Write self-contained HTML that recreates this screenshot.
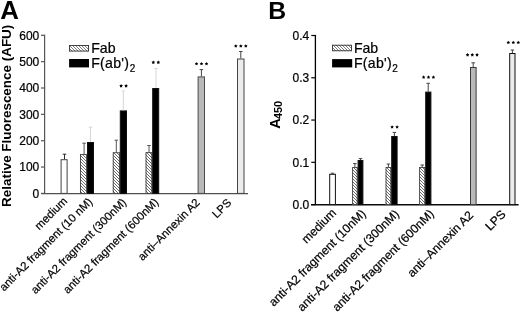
<!DOCTYPE html>
<html><head><meta charset="utf-8"><title>Figure</title>
<style>
html,body{margin:0;padding:0;background:#fff;width:520px;height:313px;overflow:hidden;}
svg{display:block;font-family:"Liberation Sans", sans-serif;filter:grayscale(1);}
text[font-weight="normal"]{stroke:#000;stroke-width:0.22px;}
</style></head><body>
<svg width="520" height="313" viewBox="0 0 520 313">
<rect width="520" height="313" fill="#fff"/>
<text x="0.30" y="19.20" font-size="25.80" text-anchor="start" font-weight="bold" fill="#000">A</text>
<text x="0.00" y="0.00" font-size="13.45" text-anchor="middle" font-weight="bold" fill="#000" transform="translate(10.70,115.80) rotate(-90)">Relative Fluorescence (AFU)</text>
<line x1="44.60" y1="34.70" x2="44.60" y2="193.40" stroke="#555" stroke-width="1.2"/>
<line x1="41" y1="193.50" x2="248" y2="193.50" stroke="#505050" stroke-width="1.25"/>
<line x1="41" y1="193.40" x2="44.60" y2="193.40" stroke="#555" stroke-width="1.2"/>
<text x="39.30" y="197.70" font-size="12.00" text-anchor="end" font-weight="normal" fill="#000">0</text>
<line x1="41" y1="167.05" x2="44.60" y2="167.05" stroke="#555" stroke-width="1.2"/>
<text x="39.30" y="171.35" font-size="12.00" text-anchor="end" font-weight="normal" fill="#000">100</text>
<line x1="41" y1="140.70" x2="44.60" y2="140.70" stroke="#555" stroke-width="1.2"/>
<text x="39.30" y="145.00" font-size="12.00" text-anchor="end" font-weight="normal" fill="#000">200</text>
<line x1="41" y1="114.35" x2="44.60" y2="114.35" stroke="#555" stroke-width="1.2"/>
<text x="39.30" y="118.65" font-size="12.00" text-anchor="end" font-weight="normal" fill="#000">300</text>
<line x1="41" y1="88.00" x2="44.60" y2="88.00" stroke="#555" stroke-width="1.2"/>
<text x="39.30" y="92.30" font-size="12.00" text-anchor="end" font-weight="normal" fill="#000">400</text>
<line x1="41" y1="61.65" x2="44.60" y2="61.65" stroke="#555" stroke-width="1.2"/>
<text x="39.30" y="65.95" font-size="12.00" text-anchor="end" font-weight="normal" fill="#000">500</text>
<line x1="41" y1="35.30" x2="44.60" y2="35.30" stroke="#555" stroke-width="1.2"/>
<text x="39.30" y="39.60" font-size="12.00" text-anchor="end" font-weight="normal" fill="#000">600</text>
<rect x="61.10" y="159.70" width="6.00" height="33.70" fill="#fff" stroke="#444" stroke-width="1.00"/>
<line x1="64.50" y1="159.20" x2="64.50" y2="154.20" stroke="#2a2a2a" stroke-width="1.00"/><line x1="62.75" y1="154.20" x2="66.25" y2="154.20" stroke="#2a2a2a" stroke-width="1.00"/>
<clipPath id="c1"><rect x="80.00" y="154.00" width="7.00" height="39.40"/></clipPath><rect x="80.00" y="154.00" width="7.00" height="39.40" fill="#fff"/><path clip-path="url(#c1)" d="M79.00,142.00 L88.00,151.00 M79.00,145.00 L88.00,154.00 M79.00,148.00 L88.00,157.00 M79.00,151.00 L88.00,160.00 M79.00,154.00 L88.00,163.00 M79.00,157.00 L88.00,166.00 M79.00,160.00 L88.00,169.00 M79.00,163.00 L88.00,172.00 M79.00,166.00 L88.00,175.00 M79.00,169.00 L88.00,178.00 M79.00,172.00 L88.00,181.00 M79.00,175.00 L88.00,184.00 M79.00,178.00 L88.00,187.00 M79.00,181.00 L88.00,190.00 M79.00,184.00 L88.00,193.00 M79.00,187.00 L88.00,196.00 M79.00,190.00 L88.00,199.00 M79.00,193.00 L88.00,202.00" stroke="#505050" stroke-width="0.85" fill="none"/><rect x="80.42" y="154.43" width="6.15" height="38.98" fill="none" stroke="#3a3a3a" stroke-width="0.85"/>
<rect x="87.50" y="142.50" width="6.00" height="50.90" fill="#000" stroke="#111" stroke-width="1.00"/>
<line x1="84.10" y1="154.00" x2="84.10" y2="143.20" stroke="#555" stroke-width="1.00"/><line x1="82.35" y1="143.20" x2="85.85" y2="143.20" stroke="#555" stroke-width="1.00"/>
<line x1="90.50" y1="142.00" x2="90.50" y2="127.20" stroke="#d6d6d6" stroke-width="1.00"/><line x1="88.75" y1="127.20" x2="92.25" y2="127.20" stroke="#d6d6d6" stroke-width="1.00"/>
<clipPath id="c2"><rect x="112.80" y="152.30" width="7.00" height="41.10"/></clipPath><rect x="112.80" y="152.30" width="7.00" height="41.10" fill="#fff"/><path clip-path="url(#c2)" d="M111.80,138.80 L120.80,147.80 M111.80,141.80 L120.80,150.80 M111.80,144.80 L120.80,153.80 M111.80,147.80 L120.80,156.80 M111.80,150.80 L120.80,159.80 M111.80,153.80 L120.80,162.80 M111.80,156.80 L120.80,165.80 M111.80,159.80 L120.80,168.80 M111.80,162.80 L120.80,171.80 M111.80,165.80 L120.80,174.80 M111.80,168.80 L120.80,177.80 M111.80,171.80 L120.80,180.80 M111.80,174.80 L120.80,183.80 M111.80,177.80 L120.80,186.80 M111.80,180.80 L120.80,189.80 M111.80,183.80 L120.80,192.80 M111.80,186.80 L120.80,195.80 M111.80,189.80 L120.80,198.80 M111.80,192.80 L120.80,201.80" stroke="#505050" stroke-width="0.85" fill="none"/><rect x="113.22" y="152.73" width="6.15" height="40.67" fill="none" stroke="#3a3a3a" stroke-width="0.85"/>
<rect x="120.30" y="110.90" width="6.20" height="82.50" fill="#000" stroke="#111" stroke-width="1.00"/>
<line x1="116.30" y1="152.30" x2="116.30" y2="140.20" stroke="#555" stroke-width="1.00"/><line x1="114.55" y1="140.20" x2="118.05" y2="140.20" stroke="#555" stroke-width="1.00"/>
<line x1="123.30" y1="110.40" x2="123.30" y2="91.00" stroke="#d6d6d6" stroke-width="1.00"/><line x1="121.55" y1="91.00" x2="125.05" y2="91.00" stroke="#d6d6d6" stroke-width="1.00"/>
<polygon points="121.10,84.05 121.70,85.08 122.86,85.33 122.07,86.21 122.19,87.40 121.10,86.92 120.01,87.40 120.13,86.21 119.34,85.33 120.50,85.08" fill="#000"/><polygon points="126.10,84.05 126.70,85.08 127.86,85.33 127.07,86.21 127.19,87.40 126.10,86.92 125.01,87.40 125.13,86.21 124.34,85.33 125.50,85.08" fill="#000"/>
<clipPath id="c3"><rect x="145.60" y="152.20" width="6.60" height="41.20"/></clipPath><rect x="145.60" y="152.20" width="6.60" height="41.20" fill="#fff"/><path clip-path="url(#c3)" d="M144.60,141.60 L153.20,150.20 M144.60,144.60 L153.20,153.20 M144.60,147.60 L153.20,156.20 M144.60,150.60 L153.20,159.20 M144.60,153.60 L153.20,162.20 M144.60,156.60 L153.20,165.20 M144.60,159.60 L153.20,168.20 M144.60,162.60 L153.20,171.20 M144.60,165.60 L153.20,174.20 M144.60,168.60 L153.20,177.20 M144.60,171.60 L153.20,180.20 M144.60,174.60 L153.20,183.20 M144.60,177.60 L153.20,186.20 M144.60,180.60 L153.20,189.20 M144.60,183.60 L153.20,192.20 M144.60,186.60 L153.20,195.20 M144.60,189.60 L153.20,198.20 M144.60,192.60 L153.20,201.20" stroke="#505050" stroke-width="0.85" fill="none"/><rect x="146.03" y="152.62" width="5.75" height="40.78" fill="none" stroke="#3a3a3a" stroke-width="0.85"/>
<rect x="152.70" y="88.50" width="6.00" height="104.90" fill="#000" stroke="#111" stroke-width="1.00"/>
<line x1="149.00" y1="152.20" x2="149.00" y2="145.50" stroke="#555" stroke-width="1.00"/><line x1="147.25" y1="145.50" x2="150.75" y2="145.50" stroke="#555" stroke-width="1.00"/>
<line x1="156.00" y1="88.00" x2="156.00" y2="68.40" stroke="#d6d6d6" stroke-width="1.00"/><line x1="154.25" y1="68.40" x2="157.75" y2="68.40" stroke="#d6d6d6" stroke-width="1.00"/>
<polygon points="153.30,60.55 153.90,61.58 155.06,61.83 154.27,62.71 154.39,63.90 153.30,63.42 152.21,63.90 152.33,62.71 151.54,61.83 152.70,61.58" fill="#000"/><polygon points="158.30,60.55 158.90,61.58 160.06,61.83 159.27,62.71 159.39,63.90 158.30,63.42 157.21,63.90 157.33,62.71 156.54,61.83 157.70,61.58" fill="#000"/>
<rect x="198.10" y="76.90" width="6.40" height="116.50" fill="#b9b9b9" stroke="#4a4a4a" stroke-width="1.00"/>
<line x1="201.40" y1="76.40" x2="201.40" y2="69.60" stroke="#444" stroke-width="1.00"/><line x1="199.65" y1="69.60" x2="203.15" y2="69.60" stroke="#444" stroke-width="1.00"/>
<polygon points="196.50,61.95 197.10,62.98 198.26,63.23 197.47,64.11 197.59,65.30 196.50,64.82 195.41,65.30 195.53,64.11 194.74,63.23 195.90,62.98" fill="#000"/><polygon points="201.50,61.95 202.10,62.98 203.26,63.23 202.47,64.11 202.59,65.30 201.50,64.82 200.41,65.30 200.53,64.11 199.74,63.23 200.90,62.98" fill="#000"/><polygon points="206.50,61.95 207.10,62.98 208.26,63.23 207.47,64.11 207.59,65.30 206.50,64.82 205.41,65.30 205.53,64.11 204.74,63.23 205.90,62.98" fill="#000"/>
<rect x="237.50" y="59.00" width="6.50" height="134.40" fill="#ececec" stroke="#444" stroke-width="1.00"/>
<line x1="240.80" y1="58.50" x2="240.80" y2="51.50" stroke="#444" stroke-width="1.00"/><line x1="239.05" y1="51.50" x2="242.55" y2="51.50" stroke="#444" stroke-width="1.00"/>
<polygon points="235.80,44.25 236.40,45.28 237.56,45.53 236.77,46.41 236.89,47.60 235.80,47.12 234.71,47.60 234.83,46.41 234.04,45.53 235.20,45.28" fill="#000"/><polygon points="240.80,44.25 241.40,45.28 242.56,45.53 241.77,46.41 241.89,47.60 240.80,47.12 239.71,47.60 239.83,46.41 239.04,45.53 240.20,45.28" fill="#000"/><polygon points="245.80,44.25 246.40,45.28 247.56,45.53 246.77,46.41 246.89,47.60 245.80,47.12 244.71,47.60 244.83,46.41 244.04,45.53 245.20,45.28" fill="#000"/>
<clipPath id="c4"><rect x="69.10" y="45.00" width="19.90" height="6.50"/></clipPath><rect x="69.10" y="45.00" width="19.90" height="6.50" fill="#fff"/><path clip-path="url(#c4)" d="M68.10,20.10 L90.00,42.00 M68.10,23.10 L90.00,45.00 M68.10,26.10 L90.00,48.00 M68.10,29.10 L90.00,51.00 M68.10,32.10 L90.00,54.00 M68.10,35.10 L90.00,57.00 M68.10,38.10 L90.00,60.00 M68.10,41.10 L90.00,63.00 M68.10,44.10 L90.00,66.00 M68.10,47.10 L90.00,69.00 M68.10,50.10 L90.00,72.00 M68.10,53.10 L90.00,75.00" stroke="#555" stroke-width="0.75" fill="none"/><rect x="69.55" y="45.45" width="19.00" height="5.60" fill="none" stroke="#333" stroke-width="0.90"/>
<rect x="69.1" y="59.0" width="19.9" height="8.4" fill="#000"/>
<text x="91.20" y="52.60" font-size="14.10" text-anchor="start" font-weight="normal" fill="#000">Fab</text>
<text x="91.20" y="68.30" font-size="14.10" text-anchor="start" font-weight="normal" fill="#000" letter-spacing="0.3">F(ab')<tspan font-size="10" dx="0.3" dy="3.4">2</tspan></text>
<text x="0.00" y="0.00" font-size="11.35" text-anchor="end" font-weight="normal" fill="#000" transform="translate(67.90,201.90) rotate(-45)">medium</text>
<text x="0.00" y="0.00" font-size="11.35" text-anchor="end" font-weight="normal" fill="#000" transform="translate(93.10,202.50) rotate(-45)">anti-A2 fragment (10 nM)</text>
<text x="0.00" y="0.00" font-size="11.35" text-anchor="end" font-weight="normal" fill="#000" transform="translate(127.00,203.00) rotate(-45)">anti-A2 fragment (300nM)</text>
<text x="0.00" y="0.00" font-size="11.35" text-anchor="end" font-weight="normal" fill="#000" transform="translate(159.20,202.80) rotate(-45)">anti-A2 fragment (600nM)</text>
<text x="0.00" y="0.00" font-size="11.35" text-anchor="end" font-weight="normal" fill="#000" transform="translate(200.50,203.20) rotate(-45)">anti–Annexin A2</text>
<text x="0.00" y="0.00" font-size="11.35" text-anchor="end" font-weight="normal" fill="#000" transform="translate(232.00,203.50) rotate(-45)">LPS</text>
<text x="268.20" y="18.90" font-size="24.80" text-anchor="start" font-weight="bold" fill="#000">B</text>
<text x="0.00" y="0.00" font-size="14.50" text-anchor="start" font-weight="bold" fill="#000" transform="translate(279.90,128.70) rotate(-90)">A<tspan font-size="11" dx="-0.9" dy="2.1">450</tspan></text>
<line x1="315.40" y1="34.90" x2="315.40" y2="204.60" stroke="#000" stroke-width="1.3"/>
<line x1="311" y1="204.75" x2="518.6" y2="204.75" stroke="#0a0a0a" stroke-width="1.4"/>
<line x1="311.3" y1="204.60" x2="315.40" y2="204.60" stroke="#000" stroke-width="1.2"/>
<text x="309.30" y="208.90" font-size="12.00" text-anchor="end" font-weight="normal" fill="#000">0.0</text>
<line x1="311.3" y1="162.32" x2="315.40" y2="162.32" stroke="#000" stroke-width="1.2"/>
<text x="309.30" y="166.62" font-size="12.00" text-anchor="end" font-weight="normal" fill="#000">0.1</text>
<line x1="311.3" y1="120.05" x2="315.40" y2="120.05" stroke="#000" stroke-width="1.2"/>
<text x="309.30" y="124.35" font-size="12.00" text-anchor="end" font-weight="normal" fill="#000">0.2</text>
<line x1="311.3" y1="77.78" x2="315.40" y2="77.78" stroke="#000" stroke-width="1.2"/>
<text x="309.30" y="82.08" font-size="12.00" text-anchor="end" font-weight="normal" fill="#000">0.3</text>
<line x1="311.3" y1="35.50" x2="315.40" y2="35.50" stroke="#000" stroke-width="1.2"/>
<text x="309.30" y="39.80" font-size="12.00" text-anchor="end" font-weight="normal" fill="#000">0.4</text>
<rect x="329.70" y="174.30" width="5.70" height="30.30" fill="#fff" stroke="#111" stroke-width="1.00"/>
<line x1="332.50" y1="174.00" x2="332.50" y2="173.20" stroke="#444" stroke-width="1.00"/><line x1="330.75" y1="173.20" x2="334.25" y2="173.20" stroke="#444" stroke-width="1.00"/>
<clipPath id="c5"><rect x="352.20" y="167.00" width="5.40" height="37.60"/></clipPath><rect x="352.20" y="167.00" width="5.40" height="37.60" fill="#fff"/><path clip-path="url(#c5)" d="M351.20,156.20 L358.60,163.60 M351.20,159.20 L358.60,166.60 M351.20,162.20 L358.60,169.60 M351.20,165.20 L358.60,172.60 M351.20,168.20 L358.60,175.60 M351.20,171.20 L358.60,178.60 M351.20,174.20 L358.60,181.60 M351.20,177.20 L358.60,184.60 M351.20,180.20 L358.60,187.60 M351.20,183.20 L358.60,190.60 M351.20,186.20 L358.60,193.60 M351.20,189.20 L358.60,196.60 M351.20,192.20 L358.60,199.60 M351.20,195.20 L358.60,202.60 M351.20,198.20 L358.60,205.60 M351.20,201.20 L358.60,208.60 M351.20,204.20 L358.60,211.60" stroke="#505050" stroke-width="0.85" fill="none"/><rect x="352.62" y="167.43" width="4.55" height="37.17" fill="none" stroke="#3a3a3a" stroke-width="0.85"/>
<rect x="358.10" y="160.50" width="4.80" height="44.10" fill="#000" stroke="#111" stroke-width="1.00"/>
<line x1="354.90" y1="167.00" x2="354.90" y2="163.60" stroke="#444" stroke-width="1.00"/><line x1="353.15" y1="163.60" x2="356.65" y2="163.60" stroke="#444" stroke-width="1.00"/>
<line x1="360.50" y1="160.00" x2="360.50" y2="158.60" stroke="#444" stroke-width="1.00"/><line x1="358.75" y1="158.60" x2="362.25" y2="158.60" stroke="#444" stroke-width="1.00"/>
<clipPath id="c6"><rect x="385.60" y="167.00" width="5.60" height="37.60"/></clipPath><rect x="385.60" y="167.00" width="5.60" height="37.60" fill="#fff"/><path clip-path="url(#c6)" d="M384.60,156.60 L392.20,164.20 M384.60,159.60 L392.20,167.20 M384.60,162.60 L392.20,170.20 M384.60,165.60 L392.20,173.20 M384.60,168.60 L392.20,176.20 M384.60,171.60 L392.20,179.20 M384.60,174.60 L392.20,182.20 M384.60,177.60 L392.20,185.20 M384.60,180.60 L392.20,188.20 M384.60,183.60 L392.20,191.20 M384.60,186.60 L392.20,194.20 M384.60,189.60 L392.20,197.20 M384.60,192.60 L392.20,200.20 M384.60,195.60 L392.20,203.20 M384.60,198.60 L392.20,206.20 M384.60,201.60 L392.20,209.20 M384.60,204.60 L392.20,212.20" stroke="#505050" stroke-width="0.85" fill="none"/><rect x="386.03" y="167.43" width="4.75" height="37.17" fill="none" stroke="#3a3a3a" stroke-width="0.85"/>
<rect x="391.70" y="136.50" width="5.40" height="68.10" fill="#000" stroke="#111" stroke-width="1.00"/>
<line x1="388.40" y1="167.00" x2="388.40" y2="164.00" stroke="#444" stroke-width="1.00"/><line x1="386.65" y1="164.00" x2="390.15" y2="164.00" stroke="#444" stroke-width="1.00"/>
<line x1="394.40" y1="136.00" x2="394.40" y2="132.40" stroke="#444" stroke-width="1.00"/><line x1="392.65" y1="132.40" x2="396.15" y2="132.40" stroke="#444" stroke-width="1.00"/>
<polygon points="392.10,125.15 392.70,126.18 393.86,126.43 393.07,127.31 393.19,128.50 392.10,128.02 391.01,128.50 391.13,127.31 390.34,126.43 391.50,126.18" fill="#000"/><polygon points="397.10,125.15 397.70,126.18 398.86,126.43 398.07,127.31 398.19,128.50 397.10,128.02 396.01,128.50 396.13,127.31 395.34,126.43 396.50,126.18" fill="#000"/>
<clipPath id="c7"><rect x="419.20" y="167.00" width="6.00" height="37.60"/></clipPath><rect x="419.20" y="167.00" width="6.00" height="37.60" fill="#fff"/><path clip-path="url(#c7)" d="M418.20,154.20 L426.20,162.20 M418.20,157.20 L426.20,165.20 M418.20,160.20 L426.20,168.20 M418.20,163.20 L426.20,171.20 M418.20,166.20 L426.20,174.20 M418.20,169.20 L426.20,177.20 M418.20,172.20 L426.20,180.20 M418.20,175.20 L426.20,183.20 M418.20,178.20 L426.20,186.20 M418.20,181.20 L426.20,189.20 M418.20,184.20 L426.20,192.20 M418.20,187.20 L426.20,195.20 M418.20,190.20 L426.20,198.20 M418.20,193.20 L426.20,201.20 M418.20,196.20 L426.20,204.20 M418.20,199.20 L426.20,207.20 M418.20,202.20 L426.20,210.20 M418.20,205.20 L426.20,213.20" stroke="#505050" stroke-width="0.85" fill="none"/><rect x="419.62" y="167.43" width="5.15" height="37.17" fill="none" stroke="#3a3a3a" stroke-width="0.85"/>
<rect x="425.70" y="92.10" width="5.20" height="112.50" fill="#000" stroke="#111" stroke-width="1.00"/>
<line x1="422.20" y1="167.00" x2="422.20" y2="165.00" stroke="#444" stroke-width="1.00"/><line x1="420.45" y1="165.00" x2="423.95" y2="165.00" stroke="#444" stroke-width="1.00"/>
<line x1="428.20" y1="91.60" x2="428.20" y2="83.30" stroke="#444" stroke-width="1.00"/><line x1="426.45" y1="83.30" x2="429.95" y2="83.30" stroke="#444" stroke-width="1.00"/>
<polygon points="423.60,75.35 424.20,76.38 425.36,76.63 424.57,77.51 424.69,78.70 423.60,78.22 422.51,78.70 422.63,77.51 421.84,76.63 423.00,76.38" fill="#000"/><polygon points="428.50,75.35 429.10,76.38 430.26,76.63 429.47,77.51 429.59,78.70 428.50,78.22 427.41,78.70 427.53,77.51 426.74,76.63 427.90,76.38" fill="#000"/><polygon points="433.40,75.35 434.00,76.38 435.16,76.63 434.37,77.51 434.49,78.70 433.40,78.22 432.31,78.70 432.43,77.51 431.64,76.63 432.80,76.38" fill="#000"/>
<rect x="470.50" y="67.50" width="5.60" height="137.10" fill="#b9b9b9" stroke="#3a3a3a" stroke-width="1.00"/>
<line x1="473.20" y1="67.00" x2="473.20" y2="62.80" stroke="#444" stroke-width="1.00"/><line x1="471.45" y1="62.80" x2="474.95" y2="62.80" stroke="#444" stroke-width="1.00"/>
<polygon points="467.55,53.05 468.15,54.08 469.31,54.33 468.52,55.21 468.64,56.40 467.55,55.92 466.46,56.40 466.58,55.21 465.79,54.33 466.95,54.08" fill="#000"/><polygon points="472.30,53.05 472.90,54.08 474.06,54.33 473.27,55.21 473.39,56.40 472.30,55.92 471.21,56.40 471.33,55.21 470.54,54.33 471.70,54.08" fill="#000"/><polygon points="477.05,53.05 477.65,54.08 478.81,54.33 478.02,55.21 478.14,56.40 477.05,55.92 475.96,56.40 476.08,55.21 475.29,54.33 476.45,54.08" fill="#000"/>
<rect x="509.70" y="53.50" width="5.30" height="151.10" fill="#ececec" stroke="#111" stroke-width="1.00"/>
<line x1="512.40" y1="53.00" x2="512.40" y2="50.00" stroke="#444" stroke-width="1.00"/><line x1="510.65" y1="50.00" x2="514.15" y2="50.00" stroke="#444" stroke-width="1.00"/>
<polygon points="508.30,40.75 508.90,41.78 510.06,42.03 509.27,42.91 509.39,44.10 508.30,43.62 507.21,44.10 507.33,42.91 506.54,42.03 507.70,41.78" fill="#000"/><polygon points="513.30,40.75 513.90,41.78 515.06,42.03 514.27,42.91 514.39,44.10 513.30,43.62 512.21,44.10 512.33,42.91 511.54,42.03 512.70,41.78" fill="#000"/><polygon points="518.30,40.75 518.90,41.78 520.06,42.03 519.27,42.91 519.39,44.10 518.30,43.62 517.21,44.10 517.33,42.91 516.54,42.03 517.70,41.78" fill="#000"/>
<clipPath id="c8"><rect x="332.10" y="44.80" width="19.90" height="6.40"/></clipPath><rect x="332.10" y="44.80" width="19.90" height="6.40" fill="#fff"/><path clip-path="url(#c8)" d="M331.10,19.10 L353.00,41.00 M331.10,22.10 L353.00,44.00 M331.10,25.10 L353.00,47.00 M331.10,28.10 L353.00,50.00 M331.10,31.10 L353.00,53.00 M331.10,34.10 L353.00,56.00 M331.10,37.10 L353.00,59.00 M331.10,40.10 L353.00,62.00 M331.10,43.10 L353.00,65.00 M331.10,46.10 L353.00,68.00 M331.10,49.10 L353.00,71.00 M331.10,52.10 L353.00,74.00" stroke="#555" stroke-width="0.75" fill="none"/><rect x="332.55" y="45.25" width="19.00" height="5.50" fill="none" stroke="#333" stroke-width="0.90"/>
<rect x="332.1" y="59.1" width="20.1" height="8.3" fill="#000"/>
<text x="353.90" y="52.70" font-size="14.10" text-anchor="start" font-weight="normal" fill="#000">Fab</text>
<text x="353.90" y="68.30" font-size="14.10" text-anchor="start" font-weight="normal" fill="#000" letter-spacing="0.3">F(ab')<tspan font-size="10" dx="0.3" dy="3.4">2</tspan></text>
<text x="0.00" y="0.00" font-size="12.10" text-anchor="end" font-weight="normal" fill="#000" transform="translate(337.00,213.70) rotate(-45)">medium</text>
<text x="0.00" y="0.00" font-size="12.10" text-anchor="end" font-weight="normal" fill="#000" transform="translate(366.50,214.30) rotate(-45)">anti-A2 fragment (10nM)</text>
<text x="0.00" y="0.00" font-size="12.10" text-anchor="end" font-weight="normal" fill="#000" transform="translate(399.80,214.60) rotate(-45)">anti-A2 fragment (300nM)</text>
<text x="0.00" y="0.00" font-size="12.10" text-anchor="end" font-weight="normal" fill="#000" transform="translate(434.60,214.50) rotate(-45)">anti-A2 fragment (600nM)</text>
<text x="0.00" y="0.00" font-size="12.10" text-anchor="end" font-weight="normal" fill="#000" transform="translate(474.00,216.00) rotate(-45)">anti–Annexin A2</text>
<text x="0.00" y="0.00" font-size="12.10" text-anchor="end" font-weight="normal" fill="#000" transform="translate(506.50,215.00) rotate(-45)">LPS</text>
</svg>
</body></html>
